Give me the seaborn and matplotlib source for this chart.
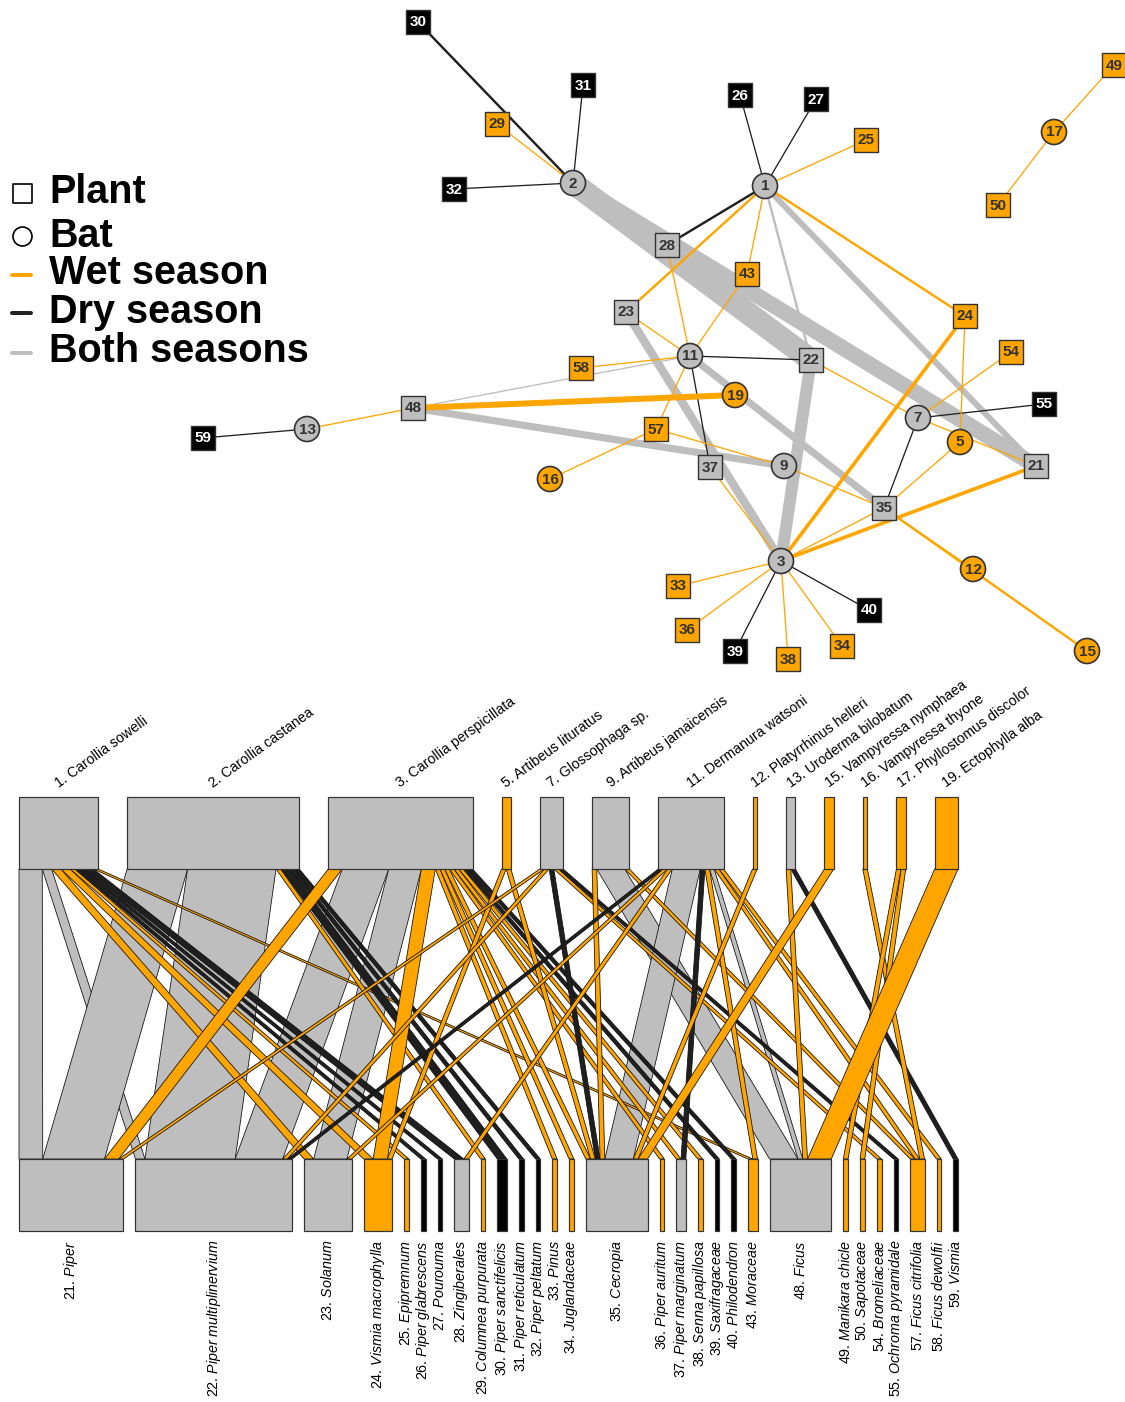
import numpy as np
import pandas as pd
import matplotlib
matplotlib.use("Agg")
import matplotlib.pyplot as plt
from matplotlib.patches import Polygon, Rectangle
import seaborn as sns

# ---------------- data ----------------
bat_ids = [1, 2, 3, 5, 7, 9, 11, 12, 13, 15, 16, 17, 19]
bat_names = ["Carollia sowelli", "Carollia castanea", "Carollia perspicillata",
             "Artibeus lituratus", "Glossophaga sp.", "Artibeus jamaicensis",
             "Dermanura watsoni", "Platyrrhinus helleri", "Uroderma bilobatum",
             "Vampyressa nymphaea", "Vampyressa thyone", "Phyllostomus discolor",
             "Ectophylla alba"]

plant_ids = [21, 22, 23, 24, 25, 26, 27, 28, 29, 30, 31, 32, 33, 34, 35, 36, 37,
             38, 39, 40, 43, 48, 49, 50, 54, 55, 57, 58, 59]
plant_names = ["Piper", "Piper multiplinervium", "Solanum", "Vismia macrophylla",
               "Epipremnum", "Piper glabrescens", "Pourouma", "Zingiberales",
               "Columnea purpurata", "Piper sanctifelicis", "Piper reticulatum",
               "Piper peltatum", "Pinus", "Juglandaceae", "Cecropia", "Piper auritum",
               "Piper marginatum", "Senna papillosa", "Saxifragaceae", "Philodendron",
               "Moraceae", "Ficus", "Manikara chicle", "Sapotaceae", "Bromeliaceae",
               "Ochroma pyramidale", "Ficus citrifolia", "Ficus dewolfii", "Vismia"]

# bat–plant interactions: counts and the season(s) in which they were recorded
link_bat = [1, 1, 1, 1, 1, 1, 1, 1, 1,
            2, 2, 2, 2, 2, 2,
            3, 3, 3, 3, 3, 3, 3, 3, 3, 3, 3, 3,
            5, 5,
            7, 7, 7, 7, 7,
            9, 9, 9,
            11, 11, 11, 11, 11, 11, 11, 11, 11,
            12, 13, 13, 15, 16, 17, 17, 19]
link_plant = [21, 22, 23, 24, 25, 26, 27, 28, 43,
              21, 22, 29, 30, 31, 32,
              21, 22, 23, 24, 33, 34, 35, 36, 37, 38, 39, 40,
              24, 35,
              21, 22, 35, 54, 55,
              35, 48, 57,
              22, 23, 28, 35, 37, 43, 48, 57, 58,
              35, 48, 59, 35, 57, 49, 50, 48]
link_count = [5, 2, 2, 2, 1, 1, 1, 2, 1,
              13, 19, 1, 2, 1, 1,
              3, 10, 7, 3, 1, 1, 1, 1, 1, 1, 1, 1,
              1, 1,
              1, 1, 1, 1, 1,
              1, 6, 1,
              1, 1, 1, 6, 1, 1, 1, 1, 1,
              1, 1, 1, 2, 1, 1, 1, 5]
link_season = ["both", "both", "wet", "wet", "wet", "dry", "dry", "dry", "wet",
               "both", "both", "wet", "dry", "dry", "dry",
               "wet", "both", "both", "wet", "wet", "wet", "wet", "wet", "wet", "wet", "dry", "dry",
               "wet", "wet",
               "wet", "wet", "dry", "wet", "dry",
               "wet", "both", "wet",
               "dry", "wet", "wet", "both", "dry", "wet", "both", "wet", "wet",
               "wet", "wet", "dry", "wet", "wet", "wet", "wet", "wet"]

legend_labels = ["Plant", "Bat", "Wet season", "Dry season", "Both seasons"]

# network layout (node -> x, y in the network panel)
layout = {
    1: (765, 186), 2: (573, 183), 3: (781, 561), 5: (960, 442), 7: (918, 418),
    9: (784, 466), 11: (690, 356), 12: (973, 569), 13: (307, 429), 15: (1087, 651),
    16: (550, 479), 17: (1054, 132), 19: (735, 395),
    21: (1036, 466), 22: (811, 360), 23: (626, 312), 24: (965, 316), 25: (866, 140),
    26: (740, 95), 27: (816, 99), 28: (667, 245), 29: (497, 124), 30: (418, 22),
    31: (583, 85), 32: (454, 189), 33: (678, 586), 34: (842, 646), 35: (884, 508),
    36: (687, 630), 37: (710, 467), 38: (788, 659), 39: (735, 651), 40: (869, 610),
    43: (747, 274), 48: (413, 408), 49: (1114, 65), 50: (998, 205), 54: (1011, 352),
    55: (1044, 404), 57: (656, 429), 58: (581, 368), 59: (203, 438),
}

# ---------------- styles ----------------
ORANGE, DARK, GREY = "#FFA500", "#1f1f1f", "#BEBEBE"
season_colors = {"wet": ORANGE, "dry": DARK, "both": GREY}
node_fill = {"wet": ORANGE, "dry": "#000000", "both": GREY}
PX = 0.72  # points per pixel at 100 dpi

sns.set_theme(style="white")
plt.rcParams["font.family"] = ["Liberation Sans", "DejaVu Sans"]
plt.rcParams["mathtext.fontset"] = "custom"
plt.rcParams["mathtext.it"] = "Liberation Sans:italic"
plt.rcParams["mathtext.rm"] = "Liberation Sans"

links = pd.DataFrame(dict(bat=link_bat, plant=link_plant, n=link_count,
                          season=link_season))


def node_season(values):
    s = set(values)
    if "both" in s or {"wet", "dry"} <= s:
        return "both"
    return s.pop()


bat_season = links.groupby("bat")["season"].agg(node_season)
plant_season = links.groupby("plant")["season"].agg(node_season)

fig = plt.figure(figsize=(11.25, 14.02), dpi=100)
ax = fig.add_axes([0, 0, 1, 1])

# ---------------- network ----------------
edge_order = links.assign(rank=links.season.map({"both": 0, "dry": 1, "wet": 2}))
edge_order = edge_order.sort_values(["rank", "n"], ascending=[True, False])
for _, e in edge_order.iterrows():
    (x0, y0), (x1, y1) = layout[e.bat], layout[e.plant]
    width_px = 1.3 if e.n == 1 else 1.2 * e.n
    ax.plot([x0, x1], [y0, y1], color=season_colors[e.season],
            lw=width_px * PX, solid_capstyle="butt", zorder=1)

nodes = pd.DataFrame(
    [dict(node=b, kind="bat", season=bat_season[b], x=layout[b][0], y=layout[b][1])
     for b in bat_ids] +
    [dict(node=p, kind="plant", season=plant_season[p], x=layout[p][0], y=layout[p][1])
     for p in plant_ids])

sns.scatterplot(data=nodes[nodes.kind == "plant"], x="x", y="y", hue="season",
                palette=node_fill, marker="s", s=(24 * PX) ** 2,
                edgecolor="#333333", linewidth=1.0, legend=False, ax=ax, zorder=3)
sns.scatterplot(data=nodes[nodes.kind == "bat"], x="x", y="y", hue="season",
                palette=node_fill, marker="o", s=(25 * PX) ** 2,
                edgecolor="#333333", linewidth=1.2, legend=False, ax=ax, zorder=3)
for _, r in nodes.iterrows():
    ax.text(r.x, r.y + 0.5, str(r.node), ha="center", va="center",
            fontsize=11, fontweight="bold",
            color="white" if r.season == "dry" else "#333333", zorder=4)

# legend
leg_y = [193, 236, 275, 313, 353]
ax.scatter([22], [leg_y[0]], marker="s", s=(19 * PX) ** 2, facecolor="white",
           edgecolor="black", linewidth=1.2, zorder=3)
ax.scatter([22], [leg_y[1]], marker="o", s=(19 * PX) ** 2, facecolor="white",
           edgecolor="black", linewidth=1.2, zorder=3)
for yy, c in zip(leg_y[2:], [ORANGE, "#222222", GREY]):
    ax.plot([12, 31], [yy, yy], color=c, lw=4 * PX, solid_capstyle="round")
for yy, lab in zip([203, 247, 284, 323, 362], legend_labels):
    ax.text(49, yy, lab, fontsize=28.5, fontweight="bold", ha="left",
            va="baseline", color="black")

# ---------------- bipartite web ----------------
X0, X1 = 19, 958
GAP_HI, GAP_LO = 29, 12
Y_HI_TOP, Y_HI_BOT = 797, 869
Y_LO_TOP, Y_LO_BOT = 1159, 1231

bat_tot = links.groupby("bat")["n"].sum().reindex(bat_ids)
plant_tot = links.groupby("plant")["n"].sum().reindex(plant_ids)


def box_layout(totals, gap):
    scale = (X1 - X0 - gap * (len(totals) - 1)) / totals.sum()
    widths = totals.values * scale
    lefts = X0 + np.concatenate([[0], np.cumsum(widths[:-1] + gap)])
    return pd.Series(lefts, index=totals.index), pd.Series(widths, index=totals.index), scale


hi_left, hi_w, s_hi = box_layout(bat_tot, GAP_HI)
lo_left, lo_w, s_lo = box_layout(plant_tot, GAP_LO)

links["bi"] = links.bat.map({b: i for i, b in enumerate(bat_ids)})
links["pi"] = links.plant.map({p: i for i, p in enumerate(plant_ids)})

up = links.sort_values(["bi", "pi"])
links.loc[up.index, "u0"] = (up.bat.map(hi_left)
                             + (up.groupby("bat")["n"].cumsum() - up.n) * s_hi)
lo = links.sort_values(["pi", "bi"])
links.loc[lo.index, "l0"] = (lo.plant.map(lo_left)
                             + (lo.groupby("plant")["n"].cumsum() - lo.n) * s_lo)

draw = links.assign(rank=links.season.map({"both": 0, "dry": 1, "wet": 1}))
draw = draw.sort_values(["rank", "bi", "pi"])
for _, e in draw.iterrows():
    u0, u1 = e.u0, e.u0 + e.n * s_hi
    l0, l1 = e.l0, e.l0 + e.n * s_lo
    poly = Polygon([(u0, Y_HI_BOT), (u1, Y_HI_BOT), (l1, Y_LO_TOP), (l0, Y_LO_TOP)],
                   closed=True, facecolor=season_colors[e.season],
                   edgecolor="#111111", lw=0.8 * PX, zorder=2)
    ax.add_patch(poly)

for b, name in zip(bat_ids, bat_names):
    ax.add_patch(Rectangle((hi_left[b], Y_HI_TOP), hi_w[b], Y_HI_BOT - Y_HI_TOP,
                           facecolor=node_fill[bat_season[b]], edgecolor="#333333",
                           lw=1.2 * PX, zorder=3))
    ax.text(hi_left[b] + hi_w[b] / 2, Y_HI_TOP - 9, f"{b}. {name}", rotation=36,
            rotation_mode="anchor", ha="left", va="baseline", fontsize=10.2,
            color="black")

for p, name in zip(plant_ids, plant_names):
    ax.add_patch(Rectangle((lo_left[p], Y_LO_TOP), lo_w[p], Y_LO_BOT - Y_LO_TOP,
                           facecolor=node_fill[plant_season[p]], edgecolor="#333333",
                           lw=1.2 * PX, zorder=3))
    it_name = name.replace(" ", r"\ ")
    ax.text(lo_left[p] + lo_w[p] / 2, Y_LO_BOT + 9, f"{p}. $\\it{{{it_name}}}$",
            rotation=90, ha="center", va="top", fontsize=10.3, color="black")

ax.set_xlim(0, 1125)
ax.set_ylim(1402, 0)
ax.axis("off")
fig.savefig("out.png", dpi=100, facecolor="white")
